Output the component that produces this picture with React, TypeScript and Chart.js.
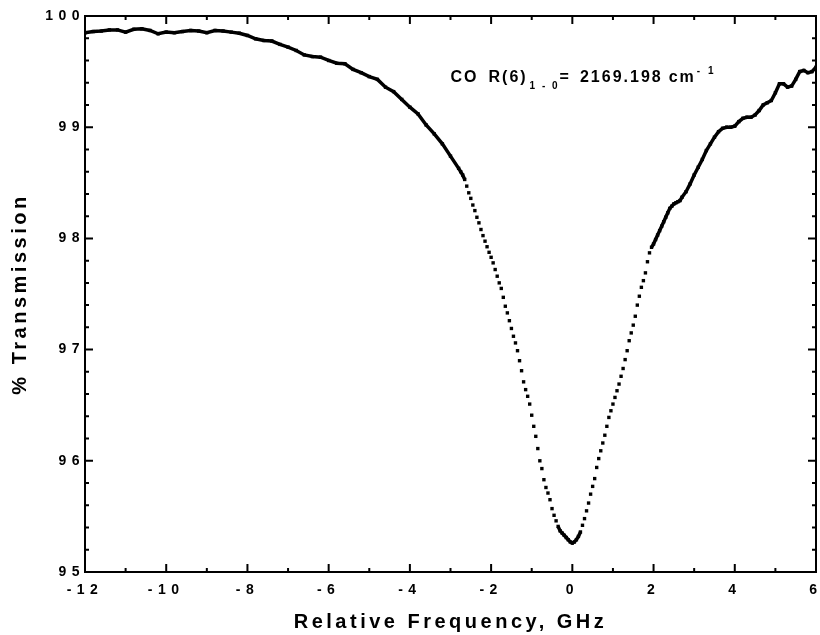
import React, { useEffect, useRef } from 'react';
import { Chart, registerables } from 'chart.js';

Chart.register(...registerables);

const FONT = '"Liberation Sans", Arial, Helvetica, sans-serif';

// ---- data (frequency in GHz, % transmission) ----
const wingLeftGHz = [
  -12, -11.8, -11.6, -11.4, -11.2, -11, -10.8, -10.6, -10.4, -10.2,
  -10, -9.8, -9.6, -9.4, -9.2, -9, -8.8, -8.6, -8.4, -8.2,
  -8, -7.8, -7.6, -7.4, -7.2, -7, -6.8, -6.6, -6.4, -6.2,
  -6, -5.8, -5.6, -5.4, -5.2, -5, -4.8, -4.6, -4.4, -4.2,
  -4, -3.8, -3.6, -3.4, -3.2, -3, -2.8,
];
const wingLeftT = [
  99.85, 99.86, 99.865, 99.875, 99.875, 99.855, 99.88, 99.885, 99.87, 99.84,
  99.855, 99.85, 99.86, 99.87, 99.865, 99.85, 99.87, 99.865, 99.855, 99.845,
  99.825, 99.795, 99.78, 99.775, 99.745, 99.72, 99.69, 99.65, 99.635, 99.63,
  99.6, 99.575, 99.57, 99.52, 99.49, 99.455, 99.43, 99.36, 99.32, 99.25,
  99.18, 99.12, 99.02, 98.94, 98.85, 98.74, 98.63,
];

const coreGHz = [
  -2.75, -2.7, -2.65, -2.6, -2.55, -2.5, -2.45, -2.4, -2.35, -2.3,
  -2.25, -2.2, -2.15, -2.1, -2.05, -2.0, -1.95, -1.9, -1.85, -1.8,
  -1.75, -1.7, -1.65, -1.6, -1.55, -1.5, -1.45, -1.4, -1.35, -1.3,
  -1.25, -1.2, -1.15, -1.1, -1.05, -1.0, -0.95, -0.9, -0.85, -0.8,
  -0.75, -0.7, -0.65, -0.6, -0.55, -0.5, -0.45, -0.4, -0.35, -0.3,
  -0.25, -0.2, -0.15, -0.1, -0.05, 0.0, 0.05, 0.1, 0.15, 0.2,
  0.25, 0.3, 0.35, 0.4, 0.45, 0.5, 0.55, 0.6, 0.65, 0.7,
  0.75, 0.8, 0.85, 0.9, 0.95, 1.0, 1.05, 1.1, 1.15, 1.2,
  1.25, 1.3, 1.35, 1.4, 1.45, 1.5, 1.55, 1.6, 1.65, 1.7,
  1.75, 1.8, 1.85, 1.9, 1.95, 2.0, 2.05, 2.1, 2.15, 2.2,
  2.25, 2.3, 2.35, 2.4, 2.45, 2.5, 2.55, 2.6, 2.65, 2.7,
];
const coreT = [
  98.6, 98.57, 98.53, 98.47, 98.41, 98.36, 98.3, 98.25, 98.19, 98.14,
  98.08, 98.025, 97.975, 97.925, 97.875, 97.83, 97.78, 97.72, 97.66, 97.6,
  97.55, 97.47, 97.39, 97.33, 97.26, 97.19, 97.12, 97.06, 96.99, 96.9,
  96.81, 96.71, 96.64, 96.58, 96.51, 96.41, 96.31, 96.22, 96.11, 96.0,
  95.93, 95.83, 95.76, 95.71, 95.65, 95.57, 95.51, 95.46, 95.41, 95.37,
  95.35, 95.33, 95.31, 95.29, 95.27, 95.26, 95.27, 95.29, 95.32, 95.36,
  95.42, 95.48, 95.55, 95.62, 95.7, 95.77, 95.84, 95.94, 96.02, 96.09,
  96.16, 96.23, 96.31, 96.39, 96.45, 96.51, 96.57, 96.63, 96.69, 96.76,
  96.83, 96.91, 96.99, 97.08, 97.15, 97.22, 97.3, 97.4, 97.48, 97.56,
  97.62, 97.69, 97.79, 97.87, 97.92, 97.95, 97.99, 98.03, 98.07, 98.11,
  98.15, 98.19, 98.23, 98.27, 98.29, 98.31, 98.32, 98.33, 98.34, 98.37,
];

const wingRightGHz = [
  2.8, 2.9, 3.0, 3.1, 3.2, 3.3, 3.4, 3.5, 3.6, 3.7,
  3.8, 3.9, 4.0, 4.1, 4.2, 4.3, 4.4, 4.5, 4.6, 4.7,
  4.8, 4.9, 5.0, 5.1, 5.2, 5.3, 5.4, 5.5, 5.6, 5.7,
  5.8, 5.9, 6.0,
];
const wingRightT = [
  98.42, 98.49, 98.57, 98.64, 98.71, 98.79, 98.85, 98.91, 98.96, 98.99,
  99.0, 99.0, 99.01, 99.05, 99.08, 99.09, 99.09, 99.11, 99.15, 99.2,
  99.22, 99.24, 99.31, 99.39, 99.39, 99.36, 99.37, 99.43, 99.5, 99.51,
  99.49, 99.5, 99.54,
];

const xRange = [-12, 6];
const xStep = 2;
const yRange = [95, 100];
const yStep = 1;

const xTitle = 'Relative Frequency, GHz';
const yTitle = '% Transmission';

// annotation: "CO  R(6)_{1-0} = 2169.198 cm^-1", anchored in data space
const annotAnchor = { x: -3, y: 99.41 };

// letter spacing per font size (the reference typesetting is widely tracked)
const spacingPlugin = {
  id: 'letterSpacing',
  beforeDraw(chart: any) {
    const ctx = chart.ctx as any;
    if (!ctx.__lsPatched) {
      const desc = Object.getOwnPropertyDescriptor(CanvasRenderingContext2D.prototype, 'font');
      if (desc && desc.set && desc.get) {
        Object.defineProperty(ctx, 'font', {
          configurable: true,
          get() {
            return desc.get!.call(this);
          },
          set(v: string) {
            desc.set!.call(this, v);
            if (/\b14px/.test(v)) this.letterSpacing = '5.5px';
            else if (/\b20px/.test(v)) this.letterSpacing = '3.5px';
          },
        });
      }
      ctx.__lsPatched = true;
    }
  },
};

const frameTicksPlugin = {
  id: 'frameTicks',
  afterDatasetsDraw(chart: any) {
    const { ctx, chartArea: a, scales } = chart;
    const xs = scales.x;
    const ys = scales.y;
    const major = 8;
    const minor = 4;
    ctx.save();
    ctx.strokeStyle = '#000';
    ctx.lineWidth = 2;
    ctx.strokeRect(a.left, a.top, a.right - a.left, a.bottom - a.top);
    ctx.beginPath();
    const xt = xs.ticks.map((t: any) => t.value);
    for (let i = 0; i < xt.length; i++) {
      const px = xs.getPixelForValue(xt[i]);
      ctx.moveTo(px, a.bottom); ctx.lineTo(px, a.bottom - major);
      ctx.moveTo(px, a.top); ctx.lineTo(px, a.top + major);
      if (i < xt.length - 1) {
        const pm = xs.getPixelForValue((xt[i] + xt[i + 1]) / 2);
        ctx.moveTo(pm, a.bottom); ctx.lineTo(pm, a.bottom - minor);
        ctx.moveTo(pm, a.top); ctx.lineTo(pm, a.top + minor);
      }
    }
    const yt = ys.ticks.map((t: any) => t.value);
    for (let i = 0; i < yt.length; i++) {
      const py = ys.getPixelForValue(yt[i]);
      ctx.moveTo(a.left, py); ctx.lineTo(a.left + major, py);
      ctx.moveTo(a.right, py); ctx.lineTo(a.right - major, py);
      if (i < yt.length - 1) {
        for (let k = 1; k < 5; k++) {
          const pm = ys.getPixelForValue(yt[i] + ((yt[i + 1] - yt[i]) * k) / 5);
          ctx.moveTo(a.left, pm); ctx.lineTo(a.left + minor, pm);
          ctx.moveTo(a.right, pm); ctx.lineTo(a.right - minor, pm);
        }
      }
    }
    ctx.stroke();
    ctx.restore();
  },
};

const annotationPlugin = {
  id: 'annotation',
  afterDraw(chart: any) {
    const { ctx, scales } = chart;
    let x = scales.x.getPixelForValue(annotAnchor.x);
    const base = scales.y.getPixelForValue(annotAnchor.y);
    ctx.save();
    ctx.fillStyle = '#000';
    ctx.textAlign = 'left';
    ctx.textBaseline = 'alphabetic';
    const pieces: { t: string; size: number; dy: number; ls: number; gap: number }[] = [
      { t: 'CO', size: 16, dy: 0, ls: 2, gap: 10 },
      { t: 'R(6)', size: 16, dy: 0, ls: 2, gap: 2 },
      { t: '1 - 0', size: 10, dy: 7, ls: 2, gap: 0 },
      { t: '=', size: 16, dy: 0, ls: 2, gap: 9 },
      { t: '2169.198', size: 16, dy: 0, ls: 2, gap: 6 },
      { t: 'cm', size: 16, dy: 0, ls: 2, gap: 1 },
      { t: '- 1', size: 10, dy: -8, ls: 2.5, gap: 0 },
    ];
    for (const p of pieces) {
      ctx.font = `bold ${p.size}px ${FONT}`;
      (ctx as any).letterSpacing = p.ls + 'px';
      ctx.fillText(p.t, x, base + p.dy);
      x += ctx.measureText(p.t).width + p.gap;
    }
    ctx.restore();
  },
};

export default function App() {
  const ref = useRef<HTMLCanvasElement | null>(null);

  useEffect(() => {
    if (!ref.current) return;
    const points = [
      ...wingLeftGHz.map((f, i) => ({ x: f, y: wingLeftT[i] })),
      ...coreGHz.map((f, i) => ({ x: f, y: coreT[i] })),
      ...wingRightGHz.map((f, i) => ({ x: f, y: wingRightT[i] })),
    ];
    Chart.defaults.font.family = FONT;
    const chart = new Chart(ref.current, {
      type: 'line',
      data: {
        datasets: [
          {
            data: points,
            borderColor: '#000',
            backgroundColor: '#000',
            borderWidth: 3.5,
            pointStyle: 'rect',
            pointRadius: 2.4,
            pointBorderWidth: 0,
            pointBackgroundColor: '#000',
            tension: 0,
            segment: {
              borderColor: (c: any) => {
                const dx = Math.abs(c.p1.x - c.p0.x);
                const dy = Math.abs(c.p1.y - c.p0.y);
                return dy > 2.4 * dx ? 'rgba(0,0,0,0)' : '#000';
              },
            },
          } as any,
        ],
      },
      options: {
        animation: false,
        responsive: false,
        maintainAspectRatio: false,
        layout: { padding: { top: 16, right: 3, left: 0, bottom: 0 } },
        plugins: { legend: { display: false }, tooltip: { enabled: false } },
        events: [],
        scales: {
          x: {
            type: 'linear',
            min: xRange[0],
            max: xRange[1],
            grid: { display: false, drawTicks: false },
            border: { display: false },
            ticks: {
              stepSize: xStep,
              color: '#000',
              padding: 10,
              maxRotation: 0,
              autoSkip: false,
              font: { size: 14, weight: 'bold' },
              callback: (v: any) => String(v),
            },
            title: {
              display: true,
              text: xTitle,
              color: '#000',
              font: { size: 20, weight: 'bold' },
              padding: { top: 0, bottom: 1 },
            },
            afterFit: (s: any) => {
              s.height = 63;
              s.paddingLeft = 0;
              s.paddingRight = 0;
            },
          },
          y: {
            type: 'linear',
            min: yRange[0],
            max: yRange[1],
            grid: { display: false, drawTicks: false },
            border: { display: false },
            ticks: {
              stepSize: yStep,
              color: '#000',
              padding: 0,
              font: { size: 14, weight: 'bold' },
              callback: (v: any) => String(v),
            },
            title: {
              display: true,
              text: yTitle,
              color: '#000',
              font: { size: 20, weight: 'bold' },
              padding: { top: 8, bottom: 0 },
            },
            afterFit: (s: any) => {
              s.width = 85;
              s.paddingTop = 0;
              s.paddingBottom = 0;
            },
          },
        },
      } as any,
      plugins: [spacingPlugin, frameTicksPlugin, annotationPlugin],
    });
    return () => chart.destroy();
  }, []);

  return (
    <div style={{ position: 'fixed', left: 0, top: 0, width: 820, height: 635, background: '#fff' }}>
      <canvas ref={ref} width={820} height={635} />
    </div>
  );
}
